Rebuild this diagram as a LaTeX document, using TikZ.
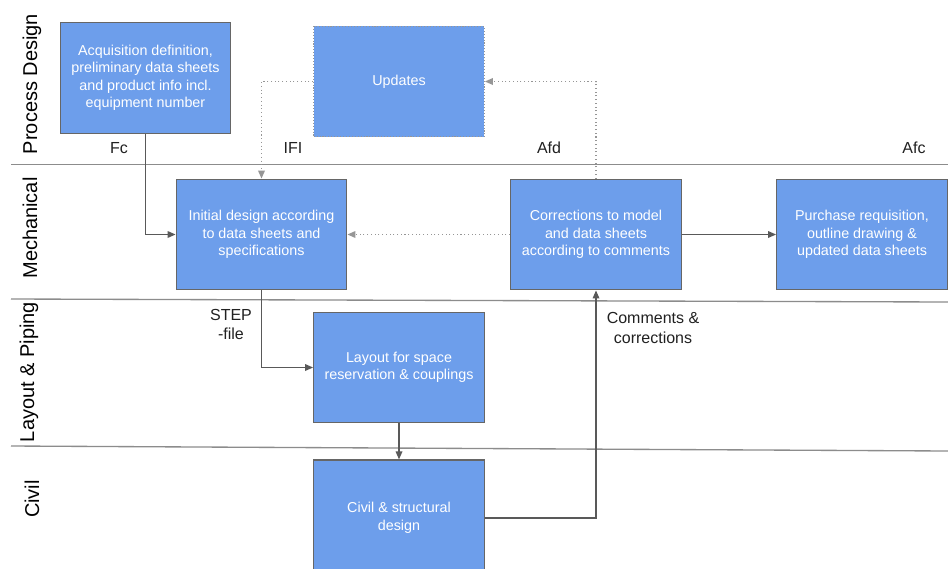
\documentclass[tikz,border=0pt]{standalone}
\usepackage{fontspec}
\setmainfont{Liberation Sans}
\usepackage{xcolor}
\usepackage{tikz}
\usetikzlibrary{arrows.meta, positioning, calc}
\definecolor{FlowBlue}{RGB}{109, 158, 235}
\definecolor{FlowBorder}{RGB}{102, 102, 102}
\definecolor{FlowLine}{RGB}{89, 89, 89}
\definecolor{FlowLane}{RGB}{140, 140, 140}
\definecolor{FlowDots}{RGB}{150, 150, 150}
\definecolor{FlowText}{RGB}{33, 33, 33}

\tikzset{
  procbox/.style={draw=FlowBorder, line width=0.9pt, fill=FlowBlue, text=white,
    align=center, minimum width=128pt, minimum height=83pt, inner sep=2pt,
    font=\fontsize{10.75}{13.1}\selectfont},
  updbox/.style={procbox, draw=FlowDots, dash pattern=on 0.8pt off 1.4pt},
  flow/.style={draw=FlowLine, line width=0.9pt, -{Triangle[length=6pt, width=5pt]}},
  flowdot/.style={flow, draw=FlowDots, dash pattern=on 0.8pt off 2pt},
  lanelabel/.style={rotate=90, text=black, font=\fontsize{15}{18}\selectfont},
  flowlabel/.style={text=FlowText, align=center, font=\fontsize{12}{14.5}\selectfont},
}

\begin{document}
\begin{tikzpicture}[x=0.75pt, y=-0.75pt]
  \clip (0,0) rectangle (948,568);
  \fill[white] (0,0) rectangle (948,568);

  % swim lanes
  \draw[FlowLane, line width=1pt] (11,164.5) -- (948,164.5);
  \draw[FlowLane, line width=1pt] (11,299) -- (948,302);
  \draw[FlowLane, line width=1pt] (11,446) -- (948,451);
  \node[lanelabel] (lanePD) at (32,84) {Process Design};
  \node[lanelabel] (laneME) at (30,228) {Mechanical};
  \node[lanelabel] (laneLP) at (29,372) {Layout \& Piping};
  \node[lanelabel] (laneCV) at (32,499) {Civil};

  % boxes
  \node[procbox] (acq) at (145.5,78) {Acquisition definition,\\preliminary data sheets\\and product info incl.\\equipment number};
  \node[updbox] (upd) at (399,81.5) {Updates};
  \node[procbox] (init) at (261.5,234.5) {Initial design according\\to data sheets and\\specifications};
  \node[procbox] (corr) at (596,234.5) {Corrections to model\\and data sheets\\according to comments};
  \node[procbox] (purch) at (862,234.5) {Purchase requisition,\\outline drawing \&\\updated data sheets};
  \node[procbox] (lay) at (399,367.5) {Layout for space\\reservation \& couplings};
  \node[procbox, minimum height=87pt] (civ) at (399,518) {Civil \& structural\\design};

  % milestones
  \node[flowlabel] (fc) at (119,148) {Fc};
  \node[flowlabel] (ifi) at (293,148) {IFI};
  \node[flowlabel] (afd) at (549,148) {Afd};
  \node[flowlabel] (afc) at (914,148) {Afc};
  \node[flowlabel] (step) at (231,324.5) {STEP\\-file};
  \node[flowlabel] (comm) at (653,328) {Comments \&\\corrections};

  % connectors
  \draw[flow] (acq.south) |- (init.west);
  \draw[flow] (init.south) |- (lay.west);
  \draw[flow] (lay.south) -- (civ.north);
  \draw[flow] (civ.east) -| (corr.south);
  \draw[flow] (corr.east) -- (purch.west);
  \draw[flowdot] (corr.west) -- (init.east);
  \draw[flowdot] (corr.north) |- (upd.east);
  \draw[flowdot] (upd.west) -| (init.north);
\end{tikzpicture}
\end{document}
